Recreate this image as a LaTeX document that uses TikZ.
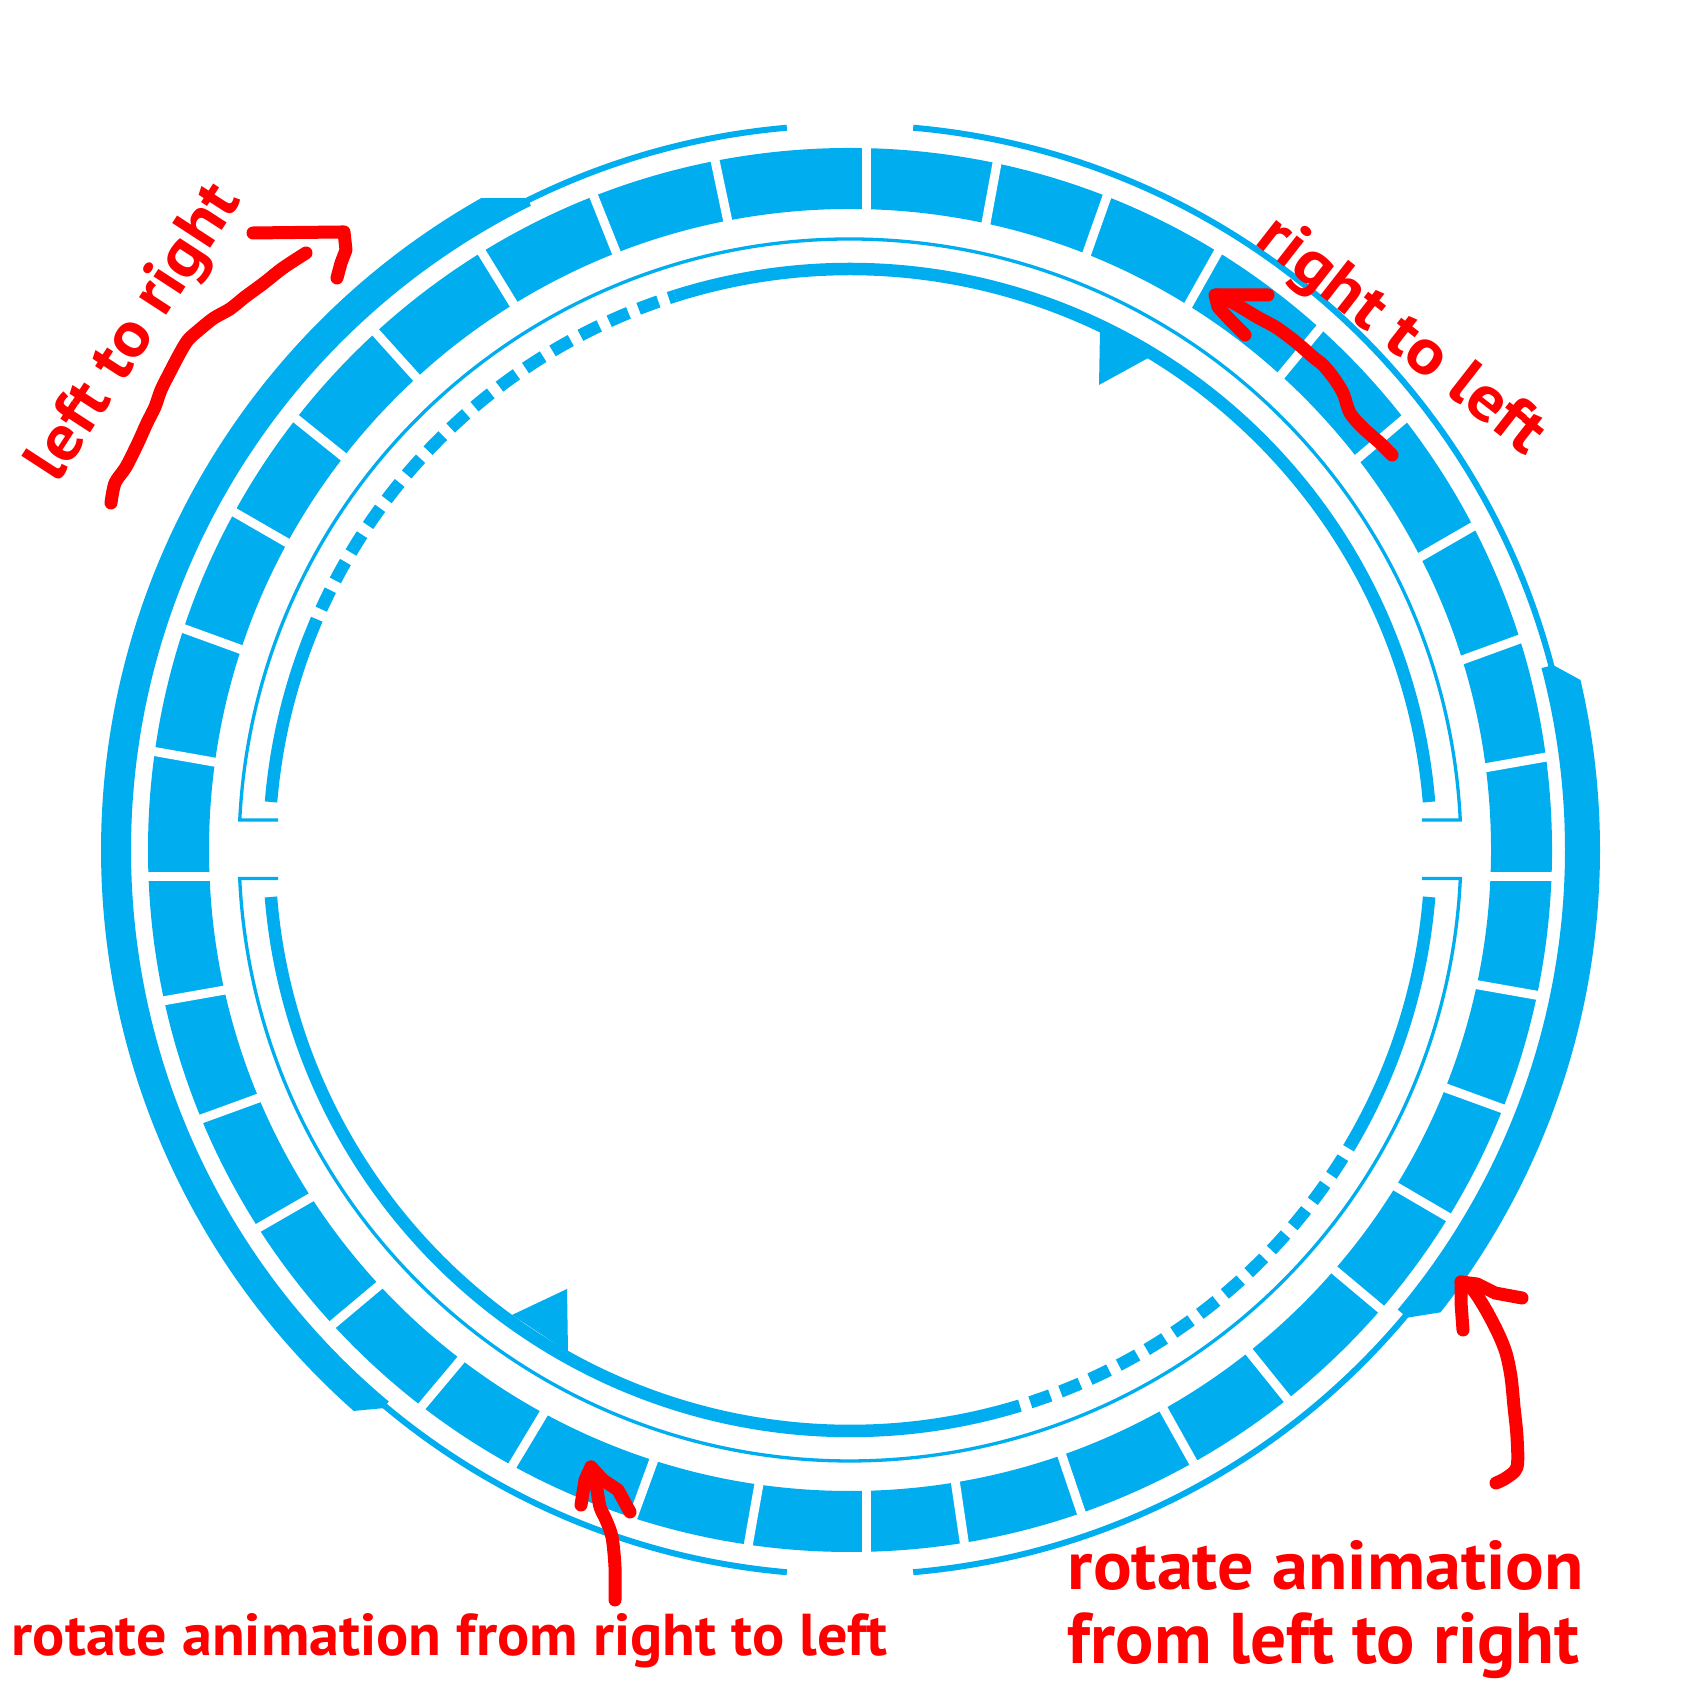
\documentclass[tikz,border=0pt]{standalone}
\usepackage{fontspec}
\setmainfont{PT Sans}
\usepackage{graphicx}
\usepackage{tikz}
\usetikzlibrary{calc}
\definecolor{ringblue}{RGB}{0,174,239}
\def\ringarc[#1](#2)(#3:#4:#5){\draw[#1] ($(#2)+({#5*cos(#3)},{#5*sin(#3)})$) arc (#3:#4:#5);}

\begin{document}
\begin{tikzpicture}[x=0.1mm, y=0.1mm,
		band/.style={ringblue, line width=#1},
		dashband/.style={ringblue, line width=1.25mm, dash pattern=on 2.1mm off 1.1mm, dash phase=2.1mm},
		note/.style={red, line width=1.3mm, line cap=round, line join=round},
		notetext/.style={text=red, font=\bfseries, inner sep=0pt}]
		%%%%% START %%%%%
		\useasboundingbox (0,0) rectangle (1700,1700);
		\coordinate (C) at (850,850);
		\coordinate (O) at (866,823);
		
		% segment ring
		\draw[band=6.1mm] (C) circle (671.5);
		\foreach \a in {0,10,20,30,40.4,50.4,60.6,70.5,79.6,90,101.9,111.8,121.6,132,141.2,150,160,170,
				180,190,200,210,220,230,239,250,260,270,278.4,288.7,299.2,308.9,320,329.7,340,350}
			\draw[white, line width=0.9mm] (O) -- ++(\a:740);
		
		% outer thin line and crescents
		\ringarc[band=0.6mm](C)(95:265:725);
		\ringarc[band=0.6mm](C)(-85:85:725);
		\fill[ringblue] ($(C)+(116.35:727.6)$) -- ($(C)+(119.5:749)$) arc (119.5:228.5:749)
			-- ($(C)+(230.1:727.6)$) -- ($(C)+(230.1:719)$) arc (230.1:116.35:719) -- cycle;
		\fill[ringblue] ($(C)+(14.74:727)$) -- ($(C)+(13.1:750)$) arc (13.1:-38.06:750)
			-- ($(C)+(-40:727.5)$) -- ($(C)+(-40:715)$) arc (-40:14.74:715) -- cycle;
		
		% inner thin line with brackets
		\draw[band=0.33mm] (278,880) -- ($(C)+(177.19:611)$) arc (177.19:2.81:611) -- (1422,880);
		\draw[band=0.33mm] (278,821.5) -- ($(C)+(182.67:611)$) arc (182.67:357.33:611) -- (1422,821.5);
		
		% inner thick ring
		\ringarc[band=1.25mm](C)(175.26:156.6:581);
		\ringarc[dashband](C)(156.6:107.5:581);
		\ringarc[band=1.25mm](C)(107.5:4.74:581);
		\ringarc[band=1.25mm](C)(184.64:287:581);
		\ringarc[dashband](C)(287:329.3:581);
		\ringarc[band=1.25mm](C)(329.3:355.36:581);
		\fill[ringblue] (1100,1370) -- (1099,1315) -- (1150,1343) -- cycle;
		\fill[ringblue] (512,385) -- (567,411) -- (568,348) -- cycle;
		
		% red notes
		\node[notetext, anchor=base west, rotate=57] (ltr) at (57,1215) {\resizebox{33.9mm}{4.6mm}{left to right}};
		\node[notetext, anchor=base west, rotate=-38] (rtl) at (1253,1457) {\resizebox{34.6mm}{4.6mm}{right to left}};
		\node[notetext, anchor=base west] (rtltext) at (11,45) {\resizebox{87.6mm}{4.2mm}{rotate animation from right to left}};
		\node[notetext, anchor=base west] (ltrone) at (1067,111) {\resizebox{51.6mm}{4.9mm}{rotate animation}};
		\node[notetext, anchor=base west] (ltrtwo) at (1067,36) {\resizebox{51.2mm}{5.1mm}{from left to right}};
		
		\draw[note] plot[smooth] coordinates {(111,1197) (115,1217) (126,1233) (138,1257) (147,1277) (155,1293) (161,1310) (170,1328) (180,1347) (188,1360) (199,1370) (214,1382) (230,1391) (245,1403) (264,1417) (283,1432) (306,1447)};
		\draw[note] (253,1467) -- (344,1468) -- (346,1450) -- (341,1437) -- (337,1422);
		
		\draw[note] plot[smooth] coordinates {(1392,1245) (1380,1257) (1363,1272) (1350,1287) (1343,1307) (1333,1323) (1323,1335) (1313,1343) (1297,1357) (1277,1372) (1257,1383) (1237,1395) (1217,1405)};
		\draw[note] (1268,1405) -- (1215,1405) -- (1218,1393) -- (1230,1380) -- (1245,1365);
		
		\draw[note] plot[smooth] coordinates {(615,100) (615,133) (612,163) (606,180) (600,193) (597,210) (593,227) (591,233)};
		\draw[note] (581,195) -- (585,220) -- (591,233) -- (603,220) -- (618,210) -- (630,188);
		
		\draw[note] plot[smooth] coordinates {(1496,217) (1506,222) (1517,233) (1517,263) (1514,293) (1511,323) (1506,347) (1498,367) (1486,390) (1473,410) (1461,418)};
		\draw[note] (1463,370) -- (1461,397) -- (1461,418) -- (1477,416) -- (1495,407) -- (1522,402);
		%%%%% END %%%%%
	\end{tikzpicture}
\end{document}
